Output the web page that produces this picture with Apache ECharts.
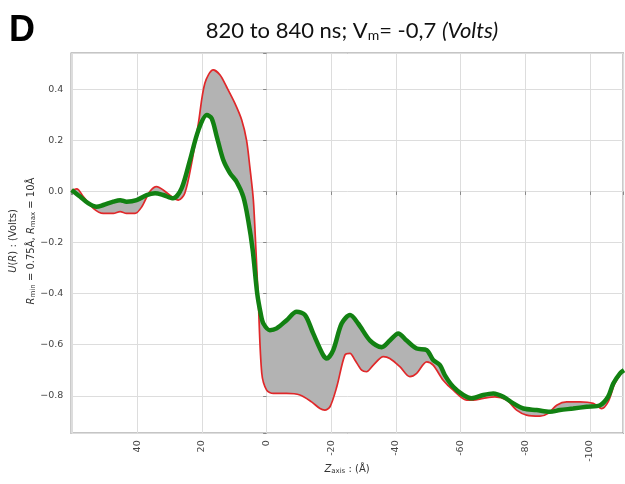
<!DOCTYPE html>
<html><head><meta charset="utf-8">
<script src="https://cdn.jsdelivr.net/npm/echarts@6/dist/echarts.min.js"></script>
<style>html,body{margin:0;padding:0;background:#fff}#c{width:625px;height:484px}</style>
</head><body><div id="c"></div>
<script>
// Red curve (first frame, 820 ns)
const zRed = [60.3,58.7,56.7,53.6,50.5,47.4,45.3,43.3,40.7,38.6,36.1,34.0,32.0,29.4,27.3,25.3,23.2,21.1,19.1,16.5,14.4,12.4,9.8,7.7,6.2,5.2,4.1,3.3,2.6,1.5,0.0,-2.1,-6.2,-10.3,-13.9,-16.5,-18.0,-19.6,-21.7,-24.2,-25.8,-27.3,-29.4,-30.9,-33.0,-36.1,-38.1,-41.2,-44.3,-46.4,-49.5,-51.5,-54.6,-57.7,-61.9,-63.9,-67.0,-70.6,-74.2,-77.3,-80.4,-84.5,-87.1,-89.7,-92.8,-96.9,-101.0,-103.6,-105.6,-107.7,-110.3];
const uRed = [0.004,0.01,-0.02,-0.066,-0.086,-0.086,-0.079,-0.086,-0.086,-0.06,0.0,0.019,0.006,-0.02,-0.034,-0.007,0.11,0.267,0.424,0.476,0.456,0.41,0.345,0.28,0.2,0.097,-0.034,-0.23,-0.42,-0.712,-0.778,-0.791,-0.791,-0.797,-0.824,-0.85,-0.856,-0.843,-0.765,-0.641,-0.634,-0.66,-0.70,-0.706,-0.68,-0.647,-0.654,-0.686,-0.725,-0.712,-0.667,-0.68,-0.739,-0.778,-0.817,-0.817,-0.81,-0.804,-0.817,-0.856,-0.876,-0.88,-0.869,-0.837,-0.824,-0.824,-0.83,-0.85,-0.824,-0.752,-0.70];
// Green curve (last frame, 840 ns)
const zGreen = [60.3,57.7,55.2,52.6,50.5,47.4,45.3,43.3,40.2,37.1,34.5,32.0,28.9,26.3,23.7,21.1,18.5,17.0,15.4,13.4,11.3,9.3,7.2,5.7,4.3,2.9,1.8,1.0,-1.0,-3.1,-6.2,-9.3,-11.9,-14.4,-17.5,-18.6,-20.6,-23.2,-25.8,-28.3,-32.0,-35.6,-38.1,-40.7,-43.3,-46.4,-49.5,-51.5,-53.6,-55.1,-57.7,-60.8,-63.4,-67.0,-70.1,-73.2,-76.3,-79.4,-83.5,-87.6,-90.7,-94.8,-99.0,-103.1,-105.6,-107.2,-109.3,-110.5];
const uGreen = [0.006,-0.02,-0.046,-0.06,-0.053,-0.04,-0.034,-0.04,-0.034,-0.014,-0.007,-0.014,-0.027,0.012,0.123,0.24,0.299,0.286,0.214,0.123,0.071,0.038,-0.021,-0.112,-0.23,-0.40,-0.48,-0.517,-0.543,-0.536,-0.504,-0.471,-0.484,-0.556,-0.641,-0.654,-0.621,-0.517,-0.484,-0.517,-0.584,-0.610,-0.584,-0.556,-0.584,-0.615,-0.621,-0.66,-0.68,-0.719,-0.765,-0.797,-0.81,-0.797,-0.791,-0.804,-0.83,-0.85,-0.856,-0.863,-0.856,-0.85,-0.843,-0.837,-0.804,-0.752,-0.712,-0.70];
const xTicks = [40,20,0,-20,-40,-60,-80,-100];
const yTicks = [0.4,0.2,0.0,-0.2,-0.4,-0.6,-0.8];
const xRange = [-110.3, 60.4];
const yRange = [-0.947, 0.541];

const chart = echarts.init(document.getElementById('c'), null, {renderer:'canvas'});
const near = (v, arr, eps) => arr.some(t => Math.abs(t - v) < eps);
const redData = zRed.map((z,i)=>[z,uRed[i]]);
const greenData = zGreen.map((z,i)=>[z,uGreen[i]]);
const lblFont = 'DejaVu Sans';
chart.setOption({
  animation:false,
  grid:{left:71.3, top:53.3, right:1.7, bottom:50.7, show:true, borderColor:'#8c8c8c', borderWidth:1.5, backgroundColor:'transparent'},
  xAxis:{type:'value', inverse:true, min:xRange[0], max:xRange[1], splitNumber:8, minInterval:20, maxInterval:20,
    axisLine:{show:false}, axisTick:{show:true, length:3.5, lineStyle:{color:'#888'}},
    splitLine:{show:true, lineStyle:{color:'#dddddd', width:1}},
    axisLabel:{rotate:90, margin:7, color:'#444', fontSize:9.5, fontFamily:lblFont,
      formatter:v => near(v,xTicks,1e-6) ? String(Math.round(v)) : ''}},
  yAxis:{type:'value', min:yRange[0], max:yRange[1], splitNumber:7, minInterval:0.2, maxInterval:0.2,
    axisLine:{show:false}, axisTick:{show:true, length:3.5, lineStyle:{color:'#888'}},
    splitLine:{show:true, lineStyle:{color:'#dddddd', width:1}},
    axisLabel:{margin:8, color:'#444', fontSize:9.5, fontFamily:lblFont,
      formatter:v => near(v,yTicks,1e-6) ? v.toFixed(1).replace('-', '\u2212') : ''}},
  series:[
    {type:'custom', data:[[0,0]], clip:true, z:1,
      renderItem:(params, api)=>{
        const pts=[];
        for(let i=0;i<zRed.length;i++) pts.push(api.coord([zRed[i],uRed[i]]));
        for(let i=zGreen.length-1;i>=0;i--) pts.push(api.coord([zGreen[i],uGreen[i]]));
        return {type:'polygon', shape:{points:pts, smooth:0.25}, style:{fill:'#b3b3b3'}};
      }},
    {type:'line', data:redData, showSymbol:false, smooth:0.3, z:2, clip:true,
      lineStyle:{color:'#e0282a', width:1.7}},
    {type:'line', data:greenData, showSymbol:false, smooth:0.3, z:3, clip:true,
      lineStyle:{color:'#128112', width:4.5}}
  ],
  graphic:[
    {type:'text', x:22, y:31, style:{text:'D', font:'bold 36px "Liberation Sans"', fill:'#000', textAlign:'center', textVerticalAlign:'middle'}},
    {type:'text', x:352, y:31, style:{text:'{a|820 to 840 ns; V}{s|m}{a|= -0,7 }{i|(Volts)}', textAlign:'center', textVerticalAlign:'middle', fill:'#111',
      rich:{a:{font:'22px Lato', fill:'#111'}, s:{font:'14px Lato', fill:'#111', verticalAlign:'bottom', padding:[9,0,0,0]}, i:{font:'italic 22px Lato', fill:'#111'}}}},
    {type:'text', x:347, y:469, style:{text:'{z|Z}{s|axis}{a| : (Å)}', textAlign:'center', textVerticalAlign:'middle',
      rich:{z:{font:'italic 10px "DejaVu Sans"', fill:'#333'}, s:{font:'7px "DejaVu Sans"', fill:'#333', padding:[5,0,0,0]}, a:{font:'10px "DejaVu Sans"', fill:'#333'}}}},
    {type:'text', x:13, y:241, rotation:Math.PI/2, style:{text:'{i|U}{a|(}{i|R}{a|) : (Volts)}', textAlign:'center', textVerticalAlign:'middle',
      rich:{i:{font:'italic 10px "DejaVu Sans"', fill:'#333'}, a:{font:'10px "DejaVu Sans"', fill:'#333'}}}},
    {type:'text', x:31, y:241, rotation:Math.PI/2, style:{text:'{i|R}{s|min}{a| = 0.75Å, }{i|R}{s|max}{a| = 10Å}', textAlign:'center', textVerticalAlign:'middle',
      rich:{i:{font:'italic 10px "DejaVu Sans"', fill:'#333'}, s:{font:'7px "DejaVu Sans"', fill:'#333', padding:[5,0,0,0]}, a:{font:'10px "DejaVu Sans"', fill:'#333'}}}}
  ]
});
</script></body></html>
